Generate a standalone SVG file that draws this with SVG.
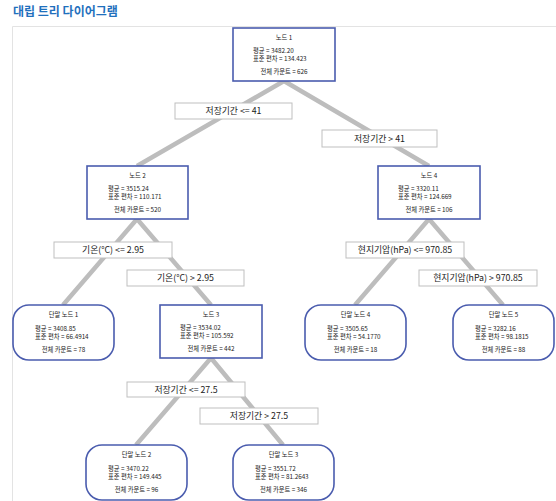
<svg xmlns="http://www.w3.org/2000/svg" width="556" height="501" viewBox="0 0 556 501">
<style>
text{font-family:"Noto Sans CJK KR","Noto Sans",sans-serif;fill:#222}
.title{font-size:12px;font-weight:bold;fill:#1f70bd}
.n{fill:#fff;stroke:#4a5cae;stroke-width:1.6}
.nt{font-size:6.3px;text-anchor:middle}
.nl{font-size:6.3px}
.lb{fill:#fff;stroke:#bfbfbf;stroke-width:1}
.lt{font-size:8.8px;text-anchor:middle}
.c{stroke:#bdbdbd;stroke-width:4.5;fill:none}
</style>
<rect width="556" height="501" fill="#fff"/>
<text class="title" x="13" y="16">대립 트리 다이어그램</text>
<path d="M12.5 501V26.5H556" fill="none" stroke="#e3e3e3" stroke-width="1"/>
<g id="connectors">
<path class="c" d="M284 81L137 166M284 81L429 166M137 219L63 305M137 219L211 305M429 219L355 305M429 219L503 305M211 358L136 445M211 358L283 445"/>
</g>
<g id="edge-labels">
<g id="l1"><rect class="lb" x="175" y="103" width="117" height="16"/><text class="lt" x="233.5" y="114">저장기간 &lt;= 41</text></g>
<g id="l2"><rect class="lb" x="322" y="130" width="115" height="17"/><text class="lt" x="379.5" y="141.5">저장기간 &gt; 41</text></g>
<g id="l3"><rect class="lb" x="54" y="242" width="118" height="16"/><text class="lt" x="113" y="253">기온(°C) &lt;= 2.95</text></g>
<g id="l4"><rect class="lb" x="127" y="270" width="117" height="16"/><text class="lt" x="185.5" y="281">기온(°C) &gt; 2.95</text></g>
<g id="l5"><rect class="lb" x="346" y="242" width="118" height="16"/><text class="lt" x="405" y="253">현지기압(hPa) &lt;= 970.85</text></g>
<g id="l6"><rect class="lb" x="419" y="270" width="118" height="16"/><text class="lt" x="478" y="281">현지기압(hPa) &gt; 970.85</text></g>
<g id="l7"><rect class="lb" x="127" y="382" width="118" height="15"/><text class="lt" x="186" y="392.5">저장기간 &lt;= 27.5</text></g>
<g id="l8"><rect class="lb" x="200" y="408" width="118" height="16"/><text class="lt" x="259" y="419">저장기간 &gt; 27.5</text></g>
</g>
<g id="node1"><rect class="n" x="233" y="28" width="102" height="53"/><text class="nt" x="284" y="39.5">노드 1</text><text class="nl" x="253" y="52.5">평균 = 3482.20</text><text class="nl" x="253" y="61.3">표준 편차 = 134.423</text><text class="nt" x="284" y="74">전체 카운트 = 626</text></g>
<g id="node2"><rect class="n" x="87" y="166" width="101" height="53"/><text class="nt" x="137.5" y="177.5">노드 2</text><text class="nl" x="108" y="190.5">평균 = 3515.24</text><text class="nl" x="108" y="199.3">표준 편차 = 110.171</text><text class="nt" x="137.5" y="212">전체 카운트 = 520</text></g>
<g id="node4"><rect class="n" x="378" y="166" width="102" height="53"/><text class="nt" x="429" y="177.5">노드 4</text><text class="nl" x="398" y="190.5">평균 = 3320.11</text><text class="nl" x="398" y="199.3">표준 편차 = 124.669</text><text class="nt" x="429" y="212">전체 카운트 = 106</text></g>
<g id="term1"><rect class="n" x="13" y="305" width="101" height="55" rx="16"/><text class="nt" x="63.5" y="317">단말 노드 1</text><text class="nl" x="35" y="330.5">평균 = 3408.85</text><text class="nl" x="35" y="339.3">표준 편차 = 66.4914</text><text class="nt" x="63.5" y="351.5">전체 카운트 = 78</text></g>
<g id="node3"><rect class="n" x="160" y="305" width="102" height="53"/><text class="nt" x="211" y="316.5">노드 3</text><text class="nl" x="180" y="329.5">평균 = 3534.02</text><text class="nl" x="180" y="338.3">표준 편차 = 105.592</text><text class="nt" x="211" y="351">전체 카운트 = 442</text></g>
<g id="term4"><rect class="n" x="305" y="305" width="101" height="55" rx="16"/><text class="nt" x="355.5" y="317">단말 노드 4</text><text class="nl" x="327" y="330.5">평균 = 3505.65</text><text class="nl" x="327" y="339.3">표준 편차 = 54.1770</text><text class="nt" x="355.5" y="351.5">전체 카운트 = 18</text></g>
<g id="term5"><rect class="n" x="453" y="305" width="101" height="55" rx="16"/><text class="nt" x="503.5" y="317">단말 노드 5</text><text class="nl" x="475" y="330.5">평균 = 3282.16</text><text class="nl" x="475" y="339.3">표준 편차 = 98.1815</text><text class="nt" x="503.5" y="351.5">전체 카운트 = 88</text></g>
<g id="term2"><rect class="n" x="86" y="445" width="101" height="55" rx="16"/><text class="nt" x="136.5" y="457">단말 노드 2</text><text class="nl" x="108" y="470.5">평균 = 3470.22</text><text class="nl" x="108" y="479.3">표준 편차 = 149.445</text><text class="nt" x="136.5" y="491.5">전체 카운트 = 96</text></g>
<g id="term3"><rect class="n" x="233" y="445" width="101" height="55" rx="16"/><text class="nt" x="283.5" y="457">단말 노드 3</text><text class="nl" x="255" y="470.5">평균 = 3551.72</text><text class="nl" x="255" y="479.3">표준 편차 = 81.2643</text><text class="nt" x="283.5" y="491.5">전체 카운트 = 346</text></g>
</svg>
